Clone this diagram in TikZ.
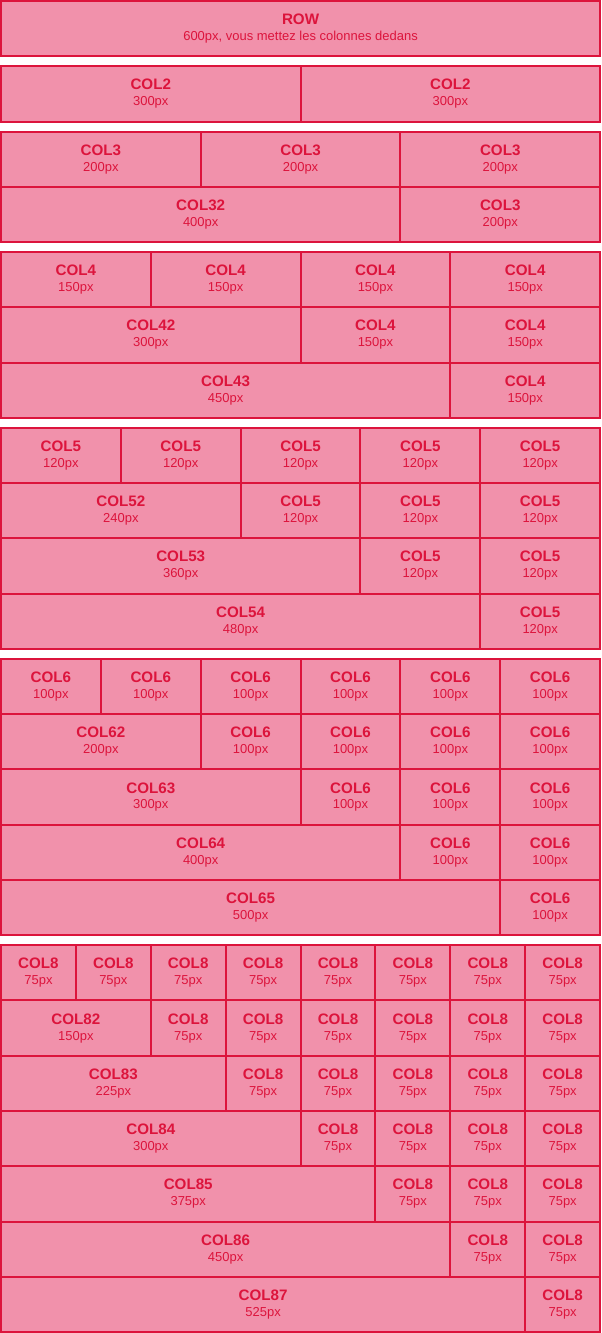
\documentclass[tikz,border=0pt]{standalone}
\usepackage{fontspec}
\setmainfont{Liberation Sans}
\usepackage{tikz}
\usetikzlibrary{calc}
\definecolor{cellfill}{RGB}{241,145,171}
\definecolor{cellline}{RGB}{220,20,60}

\begin{document}
\begin{tikzpicture}[x=0.75pt,y=-0.75pt,
		cell/.style={draw=cellline,fill=cellfill,line width=1.5pt,text=cellline,
			inner sep=0pt,outer sep=0pt,anchor=north west,align=center,
			minimum height=55.35*0.75pt,font=\fontsize{9.75}{12}\selectfont}]
			\def\rowh{55.35}
			\useasboundingbox (-1,-1) rectangle (601,1334);
			
			% la rangee complete
			\node[cell,minimum width=450pt] (row) at (0,0)
			{{\fontsize{11.4}{13}\selectfont\bfseries ROW}\\600px, vous mettez les colonnes dedans};
			
			% groupes de colonnes : n colonnes, haut du groupe
			\foreach \n/\top in {2/65.35,3/130.7,4/251.4,5/427.45,6/658.85,8/945.6}{
				\pgfmathtruncatemacro{\w}{600/\n}
				\pgfmathtruncatemacro{\last}{\n-1}
				\foreach \k in {1,...,\last}{
					\pgfmathsetmacro{\y}{\top+(\k-1)*\rowh}
					\pgfmathtruncatemacro{\ww}{\k*\w}
					% premiere case (large si k>1)
					\node[cell,minimum width=\ww*0.75pt] (c\n-\k-0) at (0,\y)
					{{\fontsize{11.4}{13}\selectfont\bfseries COL\n\ifnum\k>1 \k\fi}\\\ww px};
					% colonnes simples
					\foreach \i in {\k,...,\last}{
						\node[cell,minimum width=\w*0.75pt] (c\n-\k-\i) at (\i*\w,\y)
						{{\fontsize{11.4}{13}\selectfont\bfseries COL\n}\\\w px};
					}
				}
			}
		\end{tikzpicture}
\end{document}
